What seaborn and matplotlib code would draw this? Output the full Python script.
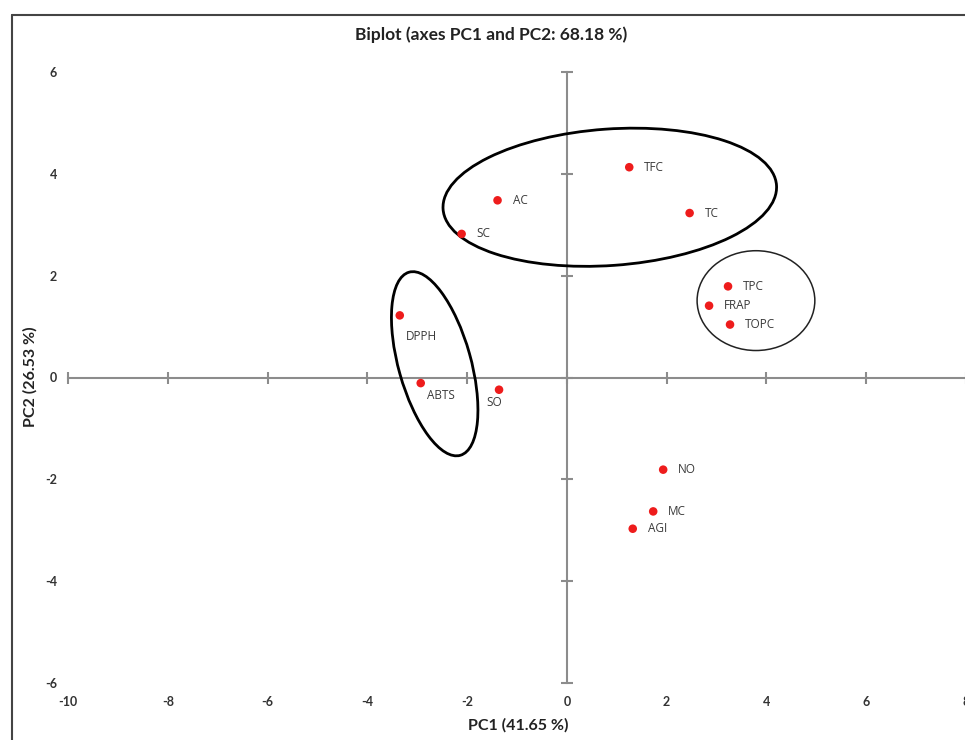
import matplotlib
matplotlib.use("Agg")
import matplotlib.pyplot as plt
import seaborn as sns
import pandas as pd
from matplotlib.patches import Ellipse
from matplotlib.lines import Line2D

# ---- data ----
labels = ["TFC", "AC", "SC", "TC", "TPC", "FRAP", "TOPC", "DPPH", "ABTS", "SO", "NO", "MC", "AGI"]
pc1 = [1.25, -1.39, -2.11, 2.46, 3.23, 2.85, 3.27, -3.35, -2.93, -1.36, 1.93, 1.73, 1.32]
pc2 = [4.13, 3.48, 2.82, 3.23, 1.79, 1.41, 1.04, 1.22, -0.11, -0.24, -1.81, -2.63, -2.97]
x_ticks = [-10, -8, -6, -4, -2, 0, 2, 4, 6, 8]
y_ticks = [-6, -4, -2, 0, 2, 4, 6]
title = "Biplot (axes PC1 and PC2: 68.18 %)"
xlabel = "PC1 (41.65 %)"
ylabel = "PC2 (26.53 %)"

df = pd.DataFrame({"PC1": pc1, "PC2": pc2, "label": labels})

# label placement (offset in points, ha)
label_style = {
    "DPPH": ((4.3, -15), "left"),
    "ABTS": ((4.3, -9), "left"),
    "SO": ((-3.6, -9), "center"),
}
default_style = ((10.8, 0), "left")

sns.set_style("white")
plt.rcParams["font.family"] = ["Lato", "DejaVu Sans"]
plt.rcParams["axes.unicode_minus"] = False

fig = plt.figure(figsize=(9.65, 7.4), dpi=100)
pos = [68 / 965, 57 / 740, 898 / 965, 611 / 740]

# axes carrying the tick labels only
ax = fig.add_axes(pos)
ax.set_xlim(-10, 8)
ax.set_ylim(-6, 6)
ax.set_xticks(x_ticks)
ax.set_yticks(y_ticks)
for s in ax.spines.values():
    s.set_visible(False)
ax.tick_params(length=0, labelsize=9, labelcolor="#333333")
ax.tick_params(axis="x", pad=9)
ax.tick_params(axis="y", pad=8)
for t in ax.get_xticklabels() + ax.get_yticklabels():
    t.set_fontweight("bold")

# axes with the zero-crossing axis lines and the data
ax2 = fig.add_axes(pos, sharex=ax, sharey=ax)
ax2.patch.set_visible(False)
ax2.spines["top"].set_visible(False)
ax2.spines["right"].set_visible(False)
ax2.spines["left"].set_position(("data", 0))
ax2.spines["bottom"].set_position(("data", 0))
for k in ("left", "bottom"):
    ax2.spines[k].set_color("#8c8c8c")
    ax2.spines[k].set_linewidth(1.5)

sns.scatterplot(data=df, x="PC1", y="PC2", ax=ax2, color="#ee1c1c", s=38,
                edgecolor="none", zorder=5, legend=False)
ax2.set_xlabel("")
ax2.set_ylabel("")
ax2.set_xlim(-10, 8)
ax2.set_ylim(-6, 6)
ax2.tick_params(bottom=True, left=True, top=False, right=False,
                direction="inout", length=9, width=1.5, color="#8c8c8c",
                labelbottom=False, labelleft=False)

for x, y, lab in zip(pc1, pc2, labels):
    off, ha = label_style.get(lab, default_style)
    ax2.annotate(lab, (x, y), xytext=off, textcoords="offset points",
                 ha=ha, va="center", fontsize=8.5, color="#3a3a3a",
                 family=["Open Sans", "DejaVu Sans"])

# group ellipses
ax2.add_patch(Ellipse((0.86, 3.54), 6.7, 2.68, angle=4, fill=False,
                      edgecolor="black", lw=2.0, zorder=4))
ax2.add_patch(Ellipse((3.79, 1.51), 2.36, 1.96, angle=0, fill=False,
                      edgecolor="#222222", lw=1.1, zorder=4))
ax2.add_patch(Ellipse((-2.65, 0.27), 1.45, 3.74, angle=16, fill=False,
                      edgecolor="black", lw=2.0, zorder=4))

# titles
fig.text(491 / 965, 1 - 35 / 740, title, ha="center", va="center",
         fontsize=12.5, fontweight="bold", color="#222222")
fig.text(518 / 965, 1 - 725 / 740, xlabel, ha="center", va="center",
         fontsize=11.5, fontweight="bold", color="#222222")
fig.text(30 / 965, 1 - 377 / 740, ylabel, ha="center", va="center",
         rotation=90, fontsize=11.5, fontweight="bold", color="#222222")

# outer frame (left and top edges)
fig.add_artist(Line2D([12 / 965, 12 / 965], [0, 1 - 15 / 740],
                      transform=fig.transFigure, color="#444444", lw=1.5))
fig.add_artist(Line2D([12 / 965, 1], [1 - 15 / 740, 1 - 15 / 740],
                      transform=fig.transFigure, color="#444444", lw=1.5))

fig.savefig("out.png", dpi=100)
